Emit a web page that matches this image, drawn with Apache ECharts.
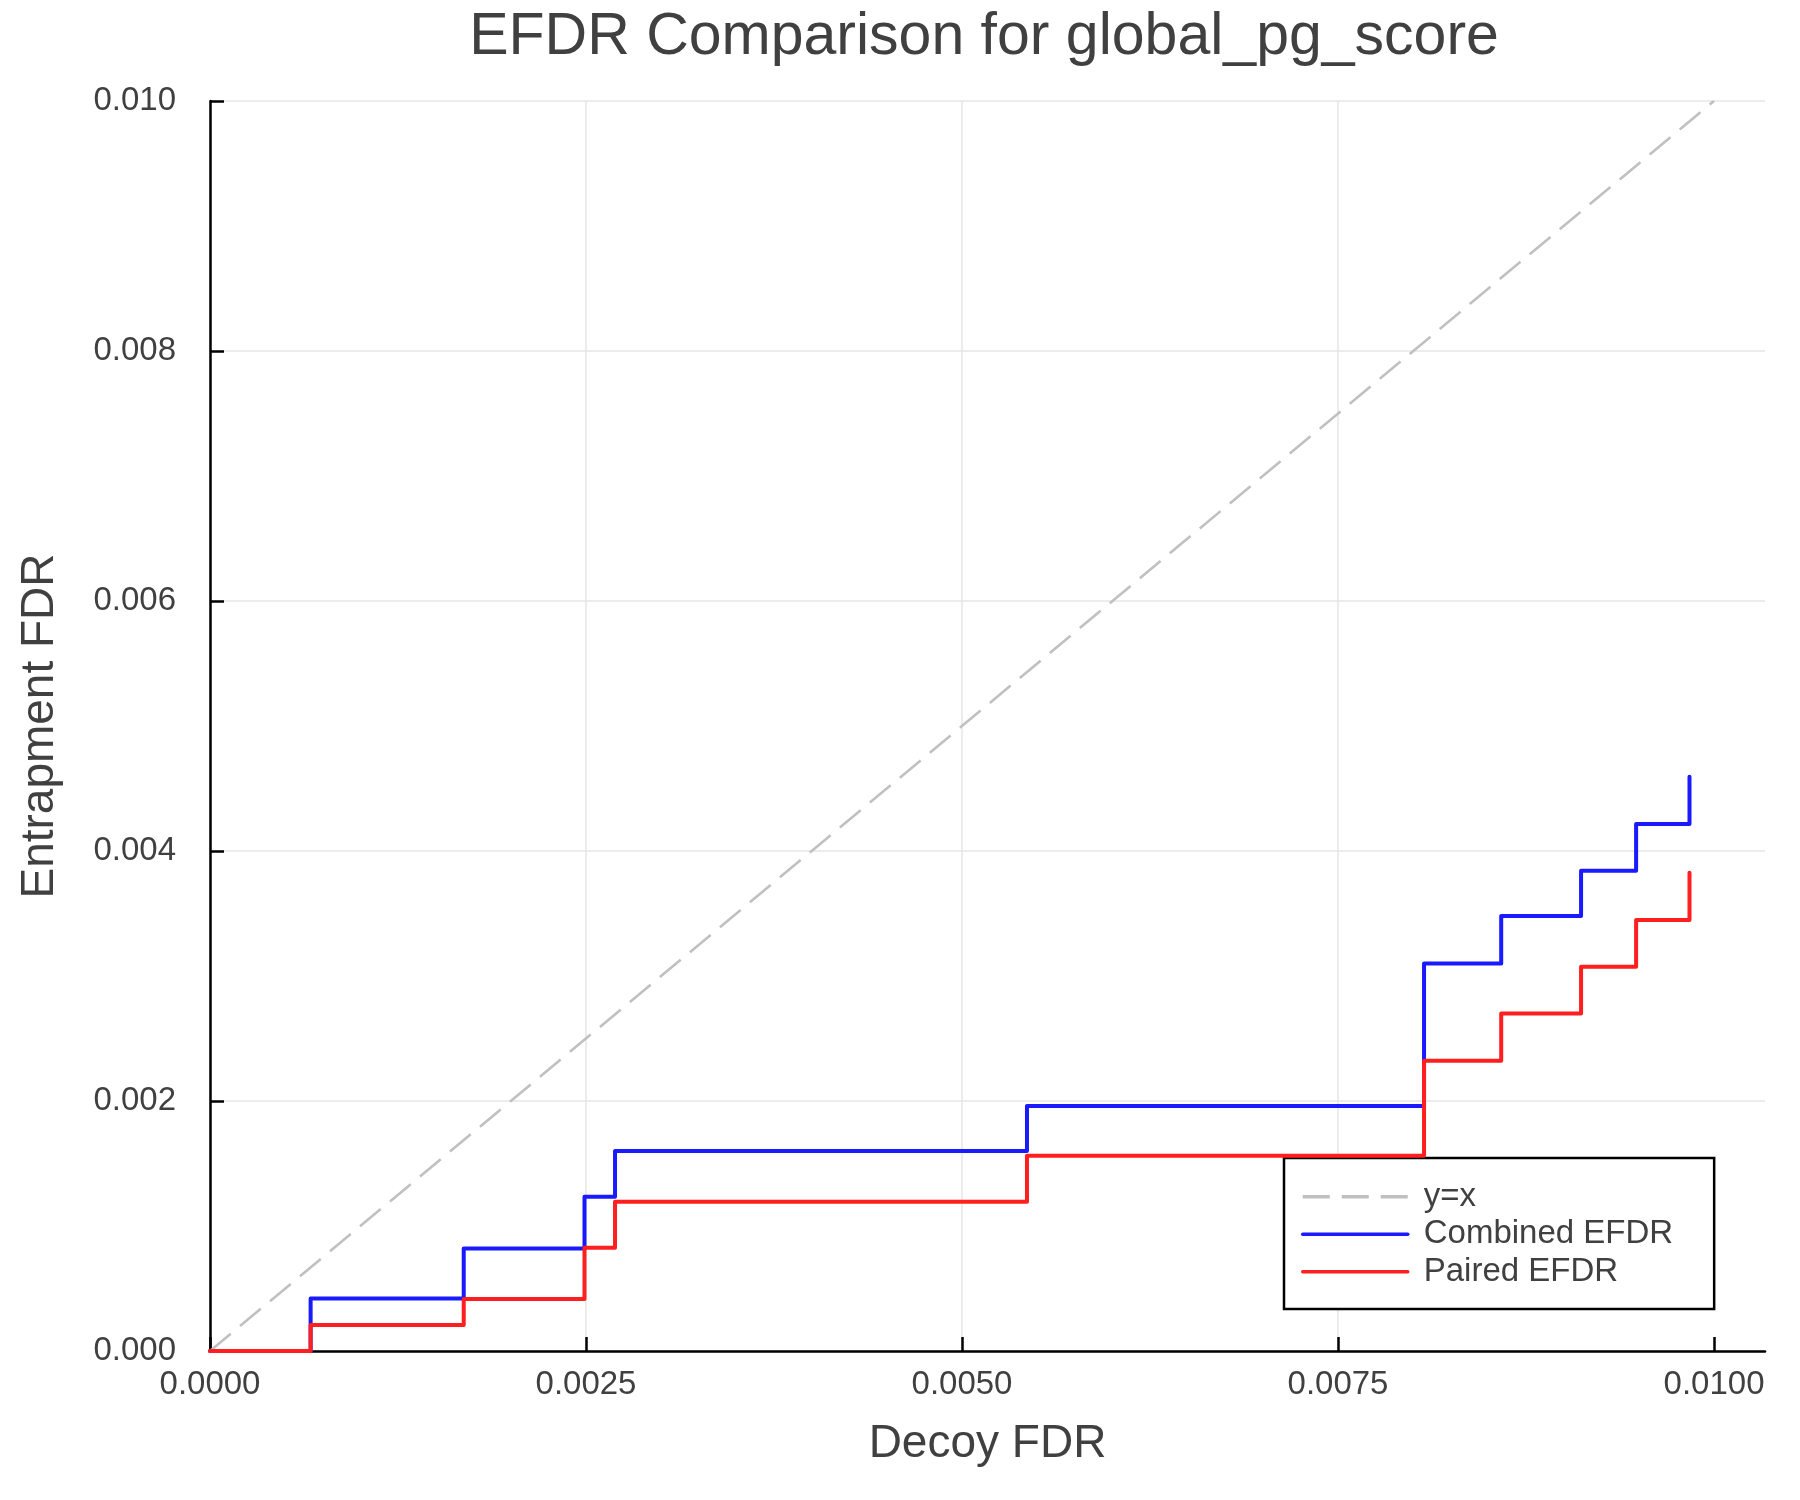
<!DOCTYPE html>
<html>
<head>
<meta charset="utf-8">
<script src="https://cdn.jsdelivr.net/npm/echarts@6.0.0/dist/echarts.min.js"></script>
<style>
html,body{margin:0;padding:0;background:#ffffff;}
#chart{width:1800px;height:1500px;}
</style>
</head>
<body>
<div id="chart"></div>
<script>
// ---- data ----
const decoyFdr     = [0, 0.000669, 0.001687, 0.00249, 0.002693, 0.005432, 0.008072, 0.008585, 0.009116, 0.009482, 0.009837];
const combinedEfdr = [0, 0.000421, 0.000821, 0.001234, 0.001600, 0.001960, 0.003101, 0.003480, 0.003843, 0.004216, 0.004595];
const pairedEfdr   = [0, 0.000208, 0.000416, 0.000827, 0.001195, 0.001563, 0.002323, 0.002701, 0.003075, 0.003448, 0.003827];
const diagX = [0, 0.01];
const diagY = [0, 0.01];
const xTicks = [0, 0.0025, 0.005, 0.0075, 0.01];
const yTicks = [0, 0.002, 0.004, 0.006, 0.008, 0.01];
const seriesNames = ['y=x', 'Combined EFDR', 'Paired EFDR'];
const titleText = 'EFDR Comparison for global_pg_score';
const xName = 'Decoy FDR';
const yName = 'Entrapment FDR';

const FONT = '"Liberation Sans", Arial, Helvetica, sans-serif';
const TXT = '#404040';
const isTick = (arr, v) => arr.some(t => Math.abs(t - v) < 1e-9);

const chart = echarts.init(document.getElementById('chart'), null, {renderer: 'canvas'});
chart.setOption({
  animation: false,
  backgroundColor: '#ffffff',
  title: {
    text: titleText,
    left: 984,
    top: 8,
    padding: 0,
    textAlign: 'center',
    textStyle: {fontSize: 59, fontWeight: 'normal', color: TXT, fontFamily: FONT}
  },
  grid: {left: 210, right: 35, top: 101, bottom: 149, containLabel: false},
  xAxis: {
    type: 'value',
    min: 0,
    max: 0.010339,
    interval: 0.0025,
    name: xName,
    nameLocation: 'middle',
    nameGap: 70,
    nameTextStyle: {fontSize: 46, color: TXT, fontFamily: FONT},
    axisLine: {show: true, onZero: false, lineStyle: {color: '#000000', width: 2.5}},
    axisTick: {show: true, inside: true, length: 14, customValues: xTicks, lineStyle: {color: '#000000', width: 2.5}},
    axisLabel: {
      margin: 17, fontSize: 33, color: TXT, fontFamily: FONT, customValues: xTicks,
      formatter: v => isTick(xTicks, v) ? v.toFixed(4) : ''
    },
    splitLine: {show: true, showMaxLine: false, lineStyle: {color: '#e6e6e6', width: 1.5}}
  },
  yAxis: {
    type: 'value',
    min: 0,
    max: 0.01,
    interval: 0.002,
    name: yName,
    nameLocation: 'middle',
    nameGap: 147,
    nameRotate: 90,
    nameTextStyle: {fontSize: 46, color: TXT, fontFamily: FONT},
    axisLine: {show: true, onZero: false, lineStyle: {color: '#000000', width: 2.5}},
    axisTick: {show: true, inside: true, length: 14, lineStyle: {color: '#000000', width: 2.5}},
    axisLabel: {
      margin: 34, fontSize: 33, color: TXT, fontFamily: FONT,
      formatter: v => isTick(yTicks, v) ? v.toFixed(3) : ''
    },
    splitLine: {show: true, lineStyle: {color: '#e6e6e6', width: 1.5}}
  },
  legend: {
    orient: 'vertical',
    left: 1284,
    top: 1158,
    data: seriesNames,
    itemWidth: 105,
    itemHeight: 2,
    itemGap: 3.5,
    padding: [21.7, 41, 20.3, 17],
    borderColor: '#000000',
    borderWidth: 2.5,
    borderRadius: 0,
    backgroundColor: '#ffffff',
    itemStyle: {opacity: 0, borderWidth: 0},
    lineStyle: {width: 3.5},
    textStyle: {fontSize: 33, lineHeight: 34, color: TXT, fontFamily: FONT, padding: [0, 0, 0, 11]}
  },
  series: [
    {
      name: seriesNames[0],
      type: 'line',
      data: diagX.map((x, i) => [x, diagY[i]]),
      symbol: 'none',
      color: '#c0c0c0',
      lineStyle: {color: '#c0c0c0', width: 2.6, type: [27, 12]},
      z: 2
    },
    {
      name: seriesNames[1],
      type: 'line',
      step: 'end',
      data: decoyFdr.map((x, i) => [x, combinedEfdr[i]]),
      symbol: 'none',
      color: '#1a1aff',
      lineStyle: {color: '#1a1aff', width: 4, cap: 'round', join: 'round'},
      z: 3
    },
    {
      name: seriesNames[2],
      type: 'line',
      step: 'end',
      data: decoyFdr.map((x, i) => [x, pairedEfdr[i]]),
      symbol: 'none',
      color: '#ff1f1f',
      lineStyle: {color: '#ff1f1f', width: 4, cap: 'round', join: 'round'},
      z: 4
    }
  ]
});
</script>
</body>
</html>
